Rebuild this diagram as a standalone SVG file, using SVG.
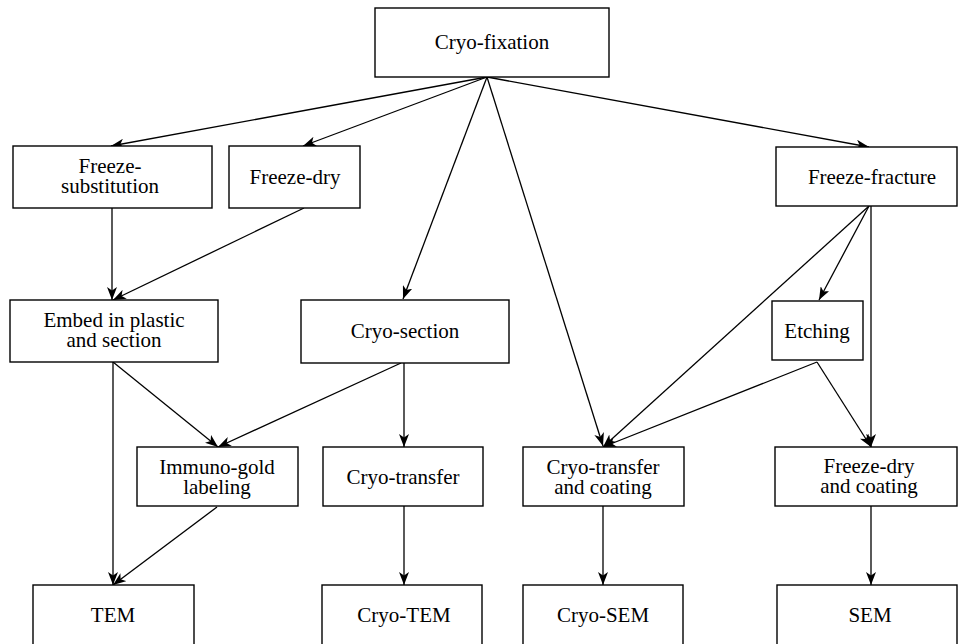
<svg xmlns="http://www.w3.org/2000/svg" width="959" height="644" viewBox="0 0 959 644" font-family="Liberation Serif, DejaVu Serif, serif">
<style>
.box{fill:#fff;stroke:#000;stroke-width:1.4}
.t{font-size:21px;fill:#000;text-anchor:middle}
.c{stroke:#000;stroke-width:1.3;fill:none;marker-end:url(#ah)}
</style>
<defs>
<marker id="ah" markerUnits="userSpaceOnUse" markerWidth="14" markerHeight="10" refX="13" refY="5" orient="auto">
<path d="M0,0 L13,5 L0,10 L3.5,5 Z" fill="#000"/>
</marker>
</defs>
<rect width="959" height="644" fill="#fff"/>
<g id="connectors">
<line class="c" x1="487" y1="77" x2="111" y2="146"/>
<line class="c" x1="487" y1="77" x2="303" y2="146"/>
<line class="c" x1="487" y1="77" x2="403" y2="299"/>
<line class="c" x1="487" y1="77" x2="603" y2="446"/>
<line class="c" x1="487" y1="77" x2="869" y2="147"/>
<line class="c" x1="112" y1="208" x2="112" y2="300"/>
<line class="c" x1="304" y1="208" x2="113" y2="300"/>
<line class="c" x1="113" y1="362" x2="113" y2="585"/>
<line class="c" x1="113" y1="362" x2="218" y2="447"/>
<line class="c" x1="401" y1="363" x2="218" y2="447"/>
<line class="c" x1="404" y1="363" x2="404" y2="447"/>
<line class="c" x1="217" y1="507" x2="113" y2="585"/>
<line class="c" x1="404" y1="506" x2="404" y2="585"/>
<line class="c" x1="869" y1="206" x2="819" y2="300"/>
<line class="c" x1="869" y1="206" x2="603" y2="447"/>
<line class="c" x1="871" y1="206" x2="871" y2="447"/>
<line class="c" x1="817" y1="362" x2="603" y2="447"/>
<line class="c" x1="817" y1="362" x2="871" y2="447"/>
<line class="c" x1="603" y1="506" x2="603" y2="585"/>
<line class="c" x1="871" y1="506" x2="871" y2="585"/>
</g>
<g id="cryo-fixation"><rect class="box" x="375" y="8" width="234" height="69"/><text class="t" x="492" y="49" font-family="Liberation Serif">Cryo-fixation</text></g>
<g id="freeze-substitution"><rect class="box" x="13" y="146" width="199" height="62"/><text class="t" x="110" y="173">Freeze-</text><text class="t" x="110" y="193">substitution</text></g>
<g id="freeze-dry"><rect class="box" x="229" y="146" width="131" height="62"/><text class="t" x="295" y="184">Freeze-dry</text></g>
<g id="freeze-fracture"><rect class="box" x="776" y="147" width="181" height="59"/><text class="t" x="872" y="184">Freeze-fracture</text></g>
<g id="embed"><rect class="box" x="10" y="300" width="208" height="62"/><text class="t" x="114" y="327">Embed in plastic</text><text class="t" x="114" y="347">and section</text></g>
<g id="cryo-section"><rect class="box" x="301" y="300" width="208" height="63"/><text class="t" x="405" y="338">Cryo-section</text></g>
<g id="etching"><rect class="box" x="772" y="301" width="91" height="59"/><text class="t" x="817" y="338">Etching</text></g>
<g id="immuno-gold"><rect class="box" x="137" y="447" width="161" height="59"/><text class="t" x="217" y="474">Immuno-gold</text><text class="t" x="217" y="494">labeling</text></g>
<g id="cryo-transfer"><rect class="box" x="323" y="447" width="160" height="59"/><text class="t" x="403" y="484">Cryo-transfer</text></g>
<g id="cryo-transfer-coating"><rect class="box" x="523" y="447" width="161" height="59"/><text class="t" x="603" y="474">Cryo-transfer</text><text class="t" x="603" y="494">and coating</text></g>
<g id="freeze-dry-coating"><rect class="box" x="775" y="447" width="182" height="59"/><text class="t" x="869" y="473">Freeze-dry</text><text class="t" x="869" y="493">and coating</text></g>
<g id="tem"><rect class="box" x="33" y="585" width="161" height="70"/><text class="t" x="113" y="622">TEM</text></g>
<g id="cryo-tem"><rect class="box" x="322" y="585" width="160" height="70"/><text class="t" x="404" y="622">Cryo-TEM</text></g>
<g id="cryo-sem"><rect class="box" x="523" y="585" width="160" height="70"/><text class="t" x="603" y="622">Cryo-SEM</text></g>
<g id="sem"><rect class="box" x="777" y="585" width="180" height="70"/><text class="t" x="870" y="622">SEM</text></g>
</svg>
